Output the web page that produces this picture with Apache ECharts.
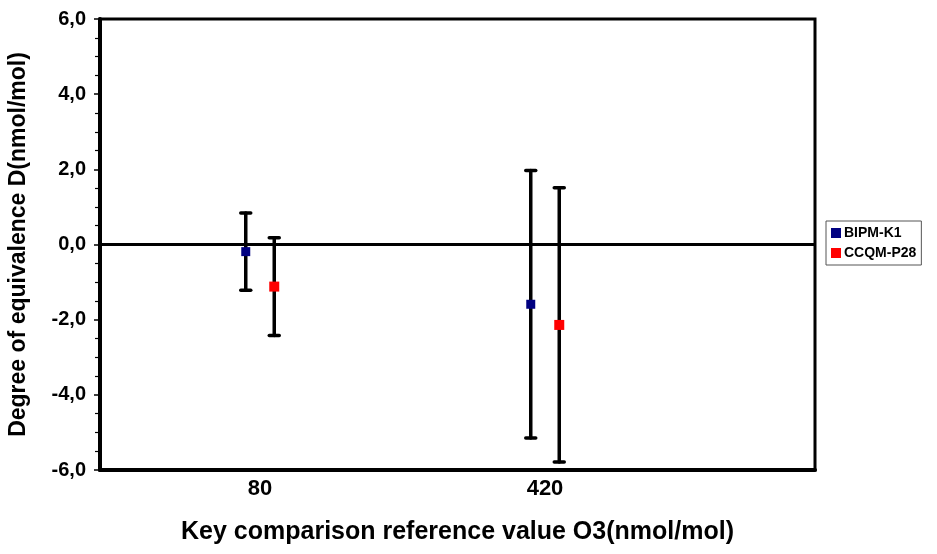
<!DOCTYPE html>
<html>
<head>
<meta charset="utf-8">
<script src="https://cdn.jsdelivr.net/npm/echarts@6/dist/echarts.min.js"></script>
<style>
  html, body { margin: 0; padding: 0; background: #fff; }
  #chart { width: 937px; height: 554px; }
</style>
</head>
<body>
<div id="chart"></div>
<script>
// data
const categories = ['80', '420']
const bipmValues = [-0.19, -1.59]
const bipmUnc = [1.03, 3.56]
const ccqmValues = [-1.12, -2.14]
const ccqmUnc = [1.30, 3.65]
const yTicks = [-6, -4, -2, 0, 2, 4, 6]

const offset = 0.05 // side-by-side shift inside a category

function pts(values, unc, shift) {
  return values.map((v, i) => [i + 1 + shift, v, v - unc[i], v + unc[i]])
}

function errorBar(params, api) {
  const x = api.value(0)
  const lo = api.coord([x, api.value(2)])
  const hi = api.coord([x, api.value(3)])
  const cap = 5
  const style = { stroke: '#000', lineWidth: 3.5, lineCap: 'round' }
  return {
    type: 'group',
    children: [
      { type: 'line', shape: { x1: lo[0], y1: lo[1], x2: hi[0], y2: hi[1] }, style: style },
      { type: 'line', shape: { x1: lo[0] - cap, y1: lo[1], x2: lo[0] + cap, y2: lo[1] }, style: style },
      { type: 'line', shape: { x1: hi[0] - cap, y1: hi[1], x2: hi[0] + cap, y2: hi[1] }, style: style }
    ]
  }
}

const bipm = pts(bipmValues, bipmUnc, -offset)
const ccqm = pts(ccqmValues, ccqmUnc, offset)

const chart = echarts.init(document.getElementById('chart'))
chart.setOption({
  animation: false,
  textStyle: { fontFamily: 'Liberation Sans, Arial, sans-serif' },
  grid: {
    left: 100, right: 122, top: 19, bottom: 84,
    outerBoundsMode: 'none',
    containLabel: false,
    show: true, borderColor: '#000', borderWidth: 3
  },
  legend: {
    left: 826, top: 221,
    orient: 'vertical',
    data: ['BIPM-K1', 'CCQM-P28'],
    icon: 'rect',
    itemWidth: 10, itemHeight: 10, itemGap: 6,
    padding: [5, 5, 5, 5],
    borderColor: '#555', borderWidth: 1,
    itemStyle: { opacity: 1 },
    textStyle: { fontWeight: 'bold', fontSize: 14, color: '#000', padding: [0, 0, 0, -2] }
  },
  xAxis: {
    type: 'value',
    min: 1 - 160 / 285,
    max: 2 + 270 / 285,
    splitLine: { show: false },
    axisLine: { onZero: false, lineStyle: { color: '#000', width: 4 } },
    axisTick: { show: false },
    axisLabel: {
      customValues: [1, 2],
      formatter: v => categories[Math.round(v) - 1] || '',
      fontSize: 22, fontWeight: 'bold', color: '#000', margin: 8
    },
    name: 'Key comparison reference value O3(nmol/mol)',
    nameLocation: 'middle',
    nameGap: 50,
    nameTextStyle: { fontSize: 25, fontWeight: 'bold', color: '#000' }
  },
  yAxis: {
    type: 'value',
    min: -6, max: 6, interval: 2,
    splitLine: { show: false },
    axisLine: { lineStyle: { color: '#000', width: 4 } },
    axisTick: { length: 6, lineStyle: { color: '#000', width: 1.5 } },
    minorTick: { show: true, splitNumber: 4, length: 5, lineStyle: { color: '#000', width: 1.2 } },
    axisLabel: {
      formatter: v => yTicks.includes(v) ? v.toFixed(1).replace('.', ',') : '',
      fontSize: 20, fontWeight: 'bold', color: '#000', margin: 14
    },
    name: 'Degree of equivalence D(nmol/mol)',
    nameLocation: 'middle',
    nameGap: 70,
    nameTextStyle: { fontSize: 23, fontWeight: 'bold', color: '#000' }
  },
  series: [
    {
      type: 'custom',
      renderItem: errorBar,
      data: bipm,
      encode: { x: 0, y: [2, 3] },
      z: 2,
      markLine: {
        silent: true,
        symbol: 'none',
        label: { show: false },
        lineStyle: { color: '#000', width: 3, type: 'solid' },
        data: [{ yAxis: 0 }]
      }
    },
    {
      type: 'custom',
      renderItem: errorBar,
      data: ccqm,
      encode: { x: 0, y: [2, 3] },
      z: 2
    },
    {
      name: 'BIPM-K1',
      type: 'scatter',
      symbol: 'rect',
      symbolSize: 9,
      itemStyle: { color: '#000080', opacity: 1 },
      data: bipm.map(d => [d[0], d[1]]),
      z: 5
    },
    {
      name: 'CCQM-P28',
      type: 'scatter',
      symbol: 'rect',
      symbolSize: 10,
      itemStyle: { color: '#ff0000', opacity: 1 },
      data: ccqm.map(d => [d[0], d[1]]),
      z: 5
    }
  ]
})
</script>
</body>
</html>
